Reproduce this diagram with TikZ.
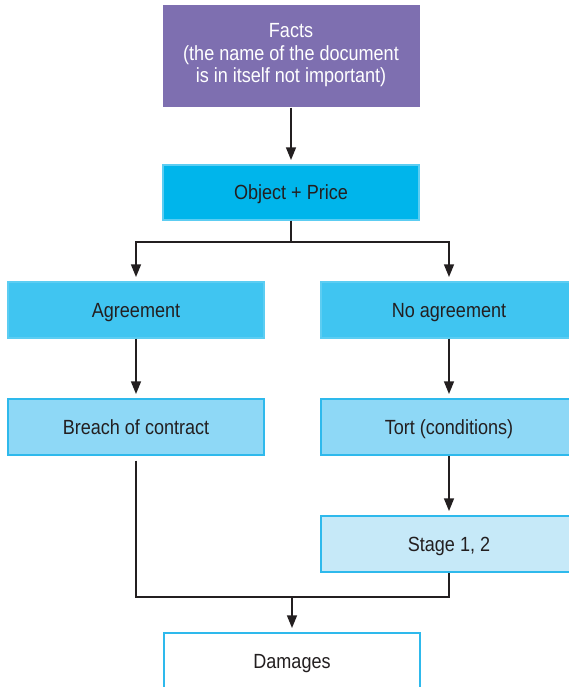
\documentclass[tikz,border=0pt]{standalone}
\usepackage{fontspec}
\setmainfont{Liberation Sans}[FakeStretch=0.88]
\usetikzlibrary{arrows.meta}
\definecolor{factsfill}{HTML}{7E6FB0}
\definecolor{objfill}{HTML}{00B5EB}
\definecolor{levelone}{HTML}{40C5F1}
\definecolor{leveltwo}{HTML}{8ED8F6}
\definecolor{levelthree}{HTML}{C6E9F8}
\definecolor{rim}{HTML}{2EB9EC}
\definecolor{softrim}{HTML}{5CCDF2}
\definecolor{ink}{HTML}{231F20}
\setlength{\tabcolsep}{0pt}
\tikzset{
  box/.style={rectangle, minimum width=256pt, minimum height=56pt, inner sep=0pt,
    align=center, text=ink, font=\fontsize{20.5}{22.5}\selectfont, line width=1.3pt},
  onelinebox/.style={box, text height=14.7pt, text depth=0pt},
  factsbox/.style={box, fill=factsfill, text=white, minimum height=102pt, minimum width=257pt},
  objbox/.style={onelinebox, fill=objfill, draw=softrim, minimum height=55pt},
  onebox/.style={onelinebox, fill=levelone, draw=softrim},
  twobox/.style={onelinebox, fill=leveltwo, draw=rim},
  threebox/.style={onelinebox, fill=levelthree, draw=rim},
  endbox/.style={onelinebox, fill=white, draw=rim},
  link/.style={draw=ink, line width=2.8pt},
  flow/.style={link, -{Triangle[width=9.5pt,length=13pt]}, shorten >=4pt}
}
\begin{document}
\begin{tikzpicture}[x=1pt, y=-1pt]
  \useasboundingbox (0,0) rectangle (569,687);
  \clip (0,0) rectangle (569,687);

  \node[factsbox] (facts) at (291,56)
    {\raisebox{1.6pt}{\begin{tabular}{c}Facts\\(the name of the document\\is in itself not important)\end{tabular}}};
  \node[objbox] (obj) at (291,192.5) {Object + Price};
  \node[onebox] (agr) at (136,310) {Agreement};
  \node[onebox] (noagr) at (449,310) {No agreement};
  \node[twobox] (breach) at (136,427) {Breach of contract};
  \node[twobox] (tort) at (449,427) {Tort (conditions)};
  \node[threebox] (stage) at (449,544) {Stage 1, 2};
  \node[endbox] (damages) at (292,661) {Damages};

  \coordinate (split) at (291,242);
  \coordinate (join) at (292,597);

  % top of the chart
  \draw[flow] (facts.south) -- (obj.north);
  \draw[link] (obj.south) -- (split);
  \draw[flow] (split) -| (agr.north);
  \draw[flow] (split) -| (noagr.north);

  % the two branches
  \draw[flow] (agr.south) -- (breach.north);
  \draw[flow] (noagr.south) -- (tort.north);
  \draw[flow] (tort.south) -- (stage.north);

  % both branches lead to damages
  \draw[link] ([yshift=-5pt]breach.south) |- (join) -| (stage.south);
  \draw[flow] (join) -- (damages.north);
\end{tikzpicture}
\end{document}
